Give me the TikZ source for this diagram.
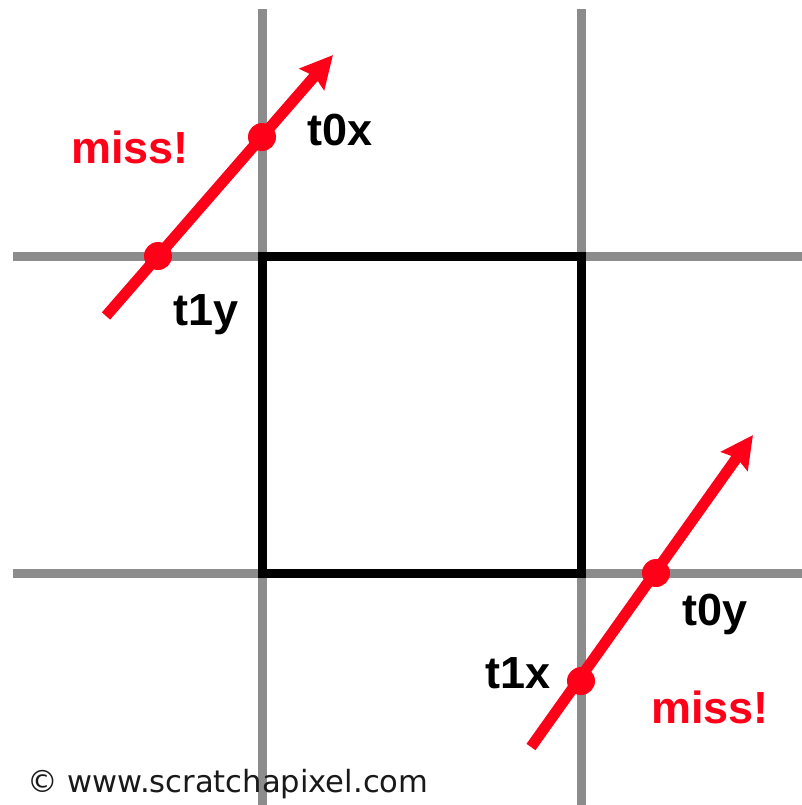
\documentclass[tikz,border=0pt]{standalone}
\usepackage{fontspec}
\setmainfont{Liberation Sans}
\newfontfamily\creditfont{DejaVu Sans}
\usetikzlibrary{arrows.meta}
\definecolor{gridgrey}{RGB}{140,140,140}
\definecolor{rayred}{RGB}{255,0,25}
\tikzset{
  gridline/.style={draw=gridgrey, line width=4.5pt},
  boxline/.style={draw=black, line width=4.5pt},
  ray/.style={draw=rayred, line width=5.5pt, -{Stealth[length=16pt,width=16pt,inset=2pt]}},
  hit/.style={circle, fill=rayred, inner sep=0pt, minimum size=14pt},
  tlabel/.style={font=\fontsize{22.5}{26}\selectfont\bfseries, anchor=base, inner sep=0pt},
  misslabel/.style={tlabel, text=rayred},
}
\begin{document}
\begin{tikzpicture}[x=0.5pt, y=-0.5pt]
\useasboundingbox (0,0) rectangle (802,805);
% grid
\draw[gridline] (262,9) -- (262,805);
\draw[gridline] (581,9) -- (581,805);
\draw[gridline] (13,256) -- (802,256);
\draw[gridline] (13,573) -- (802,573);
% box
\draw[boxline] (262,256) rectangle (581,573);
% upper ray
\coordinate (rayA0) at (106,316);
\coordinate (rayA1) at (333,55);
\draw[ray] (rayA0) -- (rayA1);
\node[hit] (t1y) at (158,256) {};
\node[hit] (t0x) at (262,137) {};
\node[misslabel] (missA) at (130,163) {miss!};
\node[tlabel] (t0xlab) at (340,145) {t0x};
\node[tlabel] (t1ylab) at (206,325) {t1y};
% lower ray
\coordinate (rayB0) at (531,747);
\coordinate (rayB1) at (753,435);
\draw[ray] (rayB0) -- (rayB1);
\node[hit] (t1x) at (581,681) {};
\node[hit] (t0y) at (656,573) {};
\node[tlabel] (t1xlab) at (518,688) {t1x};
\node[tlabel] (t0ylab) at (715,625) {t0y};
\node[misslabel] (missB) at (710,723) {miss!};
% credit
\node[font=\creditfont\fontsize{15.3}{17}\selectfont, text=black!90, anchor=base west, inner sep=0pt] (credit) at (27,792) {© www.scratchapixel.com};
\end{tikzpicture}
\end{document}
